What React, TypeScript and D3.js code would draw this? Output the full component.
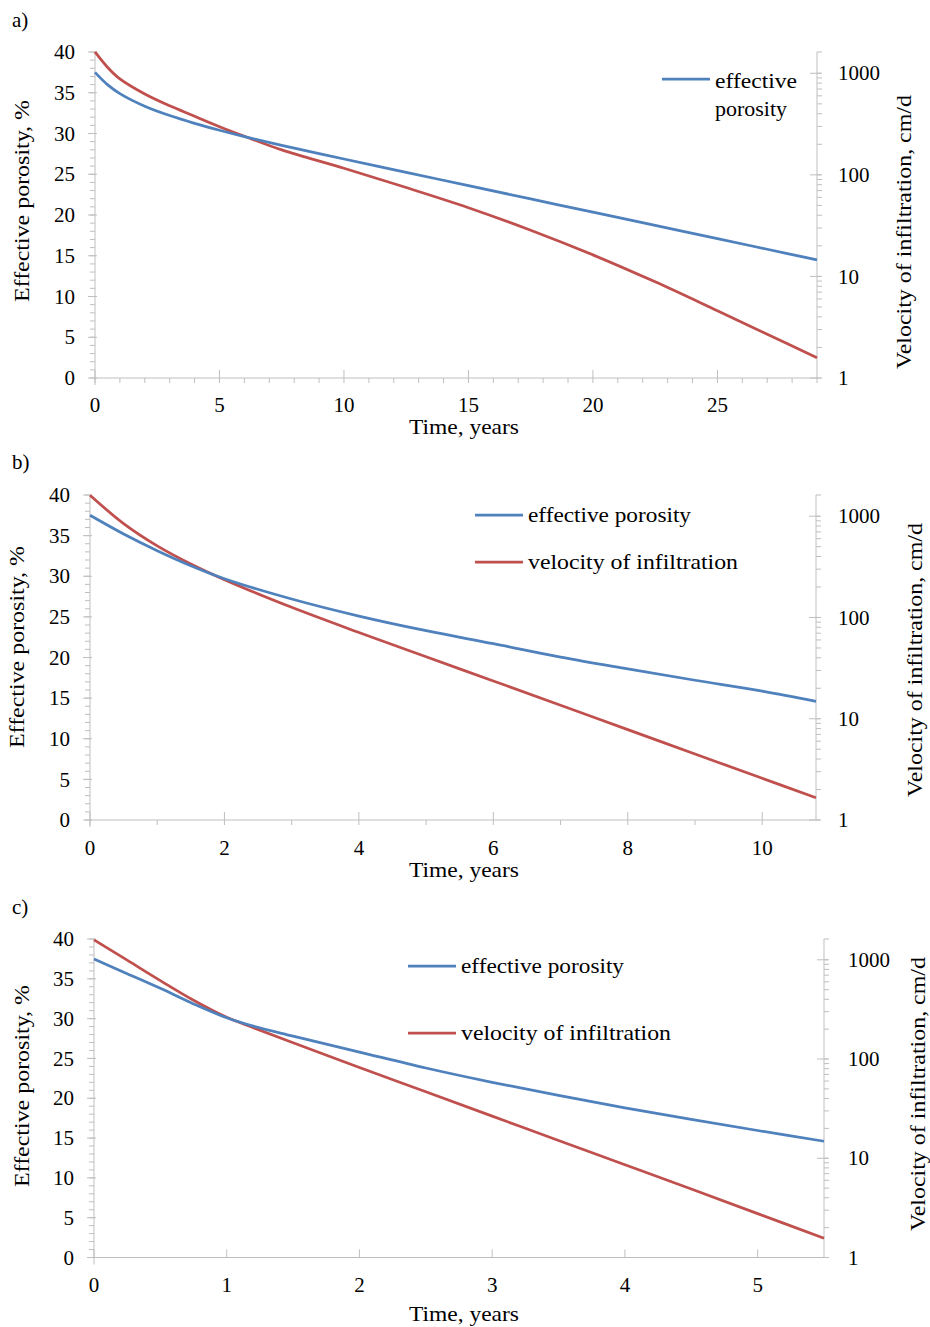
import React from "react";
import * as d3 from "d3";

// ---------- data ----------
const timeA = [0, 0.5, 1, 2, 3, 4, 5, 6, 7.5, 10, 12.5, 15, 17.5, 20, 22.5, 25, 27, 29];
const porosityA = [37.5, 36.0, 34.9, 33.35, 32.2, 31.25, 30.4, 29.62, 28.54, 26.87, 25.24, 23.6, 21.97, 20.35, 18.72, 17.1, 15.8, 14.5];
const velocityA = [1622, 1148, 880, 625, 478, 378, 298, 240, 176, 116, 75, 47.5, 28.5, 16.3, 8.84, 4.59, 2.7, 1.58];

const timeB = [0, 0.5, 1, 1.5, 2, 3, 4, 5, 6, 7, 8, 9, 10, 10.8];
const porosityB = [37.5, 35.2, 33.15, 31.3, 29.7, 27.2, 25.1, 23.3, 21.7, 20.05, 18.6, 17.2, 15.85, 14.6];
const velocityB = [1610, 845, 509, 337, 236, 126, 71.1, 40.9, 23.6, 13.6, 7.8, 4.49, 2.58, 1.66];

const timeC = [0, 0.25, 0.5, 0.75, 1, 1.2, 1.5, 2, 2.5, 3, 3.5, 4, 4.5, 5, 5.5];
const porosityC = [37.5, 35.65, 33.8, 31.85, 30.1, 29.05, 27.8, 25.8, 23.8, 22.0, 20.35, 18.8, 17.35, 15.95, 14.6];
const velocityC = [1589, 991, 617, 391, 263, 207, 146, 82.2, 46.8, 26.6, 15.1, 8.61, 4.9, 2.77, 1.56];

const porosityTicks = [0, 5, 10, 15, 20, 25, 30, 35, 40];
const velocityTicks = [1, 10, 100, 1000];
const xTicksA = [0, 5, 10, 15, 20, 25];
const xTicksB = [0, 2, 4, 6, 8, 10];
const xTicksC = [0, 1, 2, 3, 4, 5];

const BLUE = "#4F81BD";
const RED = "#C0504D";
const AXIS = "#BFBFBF";
const FONT = "Liberation Serif, Times New Roman, Tinos, Nimbus Roman, Times, serif";

type Panel = {
  tag: string;
  tagY: number;
  x0: number; x1: number; yTop: number; yBot: number;
  xMax: number; xTicks: number[]; xMinorStep: number | null;
  time: number[]; porosity: number[]; velocity: number[];
  tickBase: number; titleBase: number;
  leftTitle: [number, number]; rightTitle: [number, number];
  rightLabelX: number;
  legend: "single" | "double";
  legendX: number; legendY1: number; legendY2: number;
};

const panels: Panel[] = [
  {
    tag: "a)", tagY: 27, x0: 95, x1: 817, yTop: 52, yBot: 378, xMax: 29,
    xTicks: xTicksA, xMinorStep: 1, time: timeA, porosity: porosityA, velocity: velocityA,
    tickBase: 412, titleBase: 434, leftTitle: [22, 201], rightTitle: [904, 232], rightLabelX: 838,
    legend: "single", legendX: 662, legendY1: 79, legendY2: 0,
  },
  {
    tag: "b)", tagY: 469, x0: 90, x1: 816, yTop: 495, yBot: 820, xMax: 10.8,
    xTicks: xTicksB, xMinorStep: 1, time: timeB, porosity: porosityB, velocity: velocityB,
    tickBase: 855, titleBase: 877, leftTitle: [17, 647], rightTitle: [915, 660], rightLabelX: 838,
    legend: "double", legendX: 475, legendY1: 515, legendY2: 562,
  },
  {
    tag: "c)", tagY: 914, x0: 94, x1: 824, yTop: 939, yBot: 1257.5, xMax: 5.5,
    xTicks: xTicksC, xMinorStep: null, time: timeC, porosity: porosityC, velocity: velocityC,
    tickBase: 1292, titleBase: 1321, leftTitle: [22, 1086], rightTitle: [918, 1094], rightLabelX: 848,
    legend: "double", legendX: 408, legendY1: 966, legendY2: 1033,
  },
];

function logMinor(max: number): number[] {
  const out: number[] = [];
  for (let d = 1; d <= max; d *= 10) {
    for (let k = 1; k <= 9; k++) {
      const v = d * k;
      if (v <= max) out.push(v);
    }
  }
  return out;
}

function ChartPanel({ p }: { p: Panel }) {
  const x = d3.scaleLinear().domain([0, p.xMax]).range([p.x0, p.x1]);
  const yL = d3.scaleLinear().domain([0, 40]).range([p.yBot, p.yTop]);
  const yR = d3.scaleLog().domain([1, 1620]).range([p.yBot, p.yTop]);

  const blueLine = d3.line<number>()
    .x((_, i) => x(p.time[i]))
    .y((d) => yL(d))
    .curve(d3.curveCatmullRom.alpha(0.5));
  const redLine = d3.line<number>()
    .x((_, i) => x(p.time[i]))
    .y((d) => yR(d))
    .curve(d3.curveCatmullRom.alpha(0.5));

  const leftMinor = d3.range(0, 41, 1);
  const xMinor = p.xMinorStep ? d3.range(0, p.xMax + 1e-9, p.xMinorStep) : [];
  const rMinor = logMinor(1620);

  return (
    <g>
      <text x={12} y={p.tagY} fontSize={21}>{p.tag}</text>

      {/* left axis */}
      <line x1={p.x0} x2={p.x0} y1={p.yTop} y2={p.yBot + 7} stroke={AXIS} />
      {leftMinor.map((v) => (
        <line key={"lm" + v} x1={p.x0 - 5} x2={p.x0} y1={yL(v)} y2={yL(v)} stroke={AXIS} />
      ))}
      {porosityTicks.map((v) => (
        <g key={"lt" + v}>
          <line x1={p.x0 - 7} x2={p.x0 + 2} y1={yL(v)} y2={yL(v)} stroke={AXIS} />
          <text x={p.x0 - 20} y={yL(v)} dy="0.34em" textAnchor="end" fontSize={21}>{v}</text>
        </g>
      ))}

      {/* right axis */}
      <line x1={p.x1} x2={p.x1} y1={p.yTop} y2={p.yBot} stroke={AXIS} />
      <line x1={p.x1} x2={p.x1 + 5} y1={p.yTop} y2={p.yTop} stroke={AXIS} />
      {rMinor.map((v) => (
        <line key={"rm" + v} x1={p.x1} x2={p.x1 + 5} y1={yR(v)} y2={yR(v)} stroke={AXIS} />
      ))}
      {velocityTicks.map((v) => (
        <g key={"rt" + v}>
          <line x1={p.x1 - 7} x2={p.x1 + 4} y1={yR(v)} y2={yR(v)} stroke={AXIS} />
          <text x={p.rightLabelX} y={yR(v)} dy="0.34em" textAnchor="start" fontSize={21}>{v}</text>
        </g>
      ))}

      {/* bottom axis */}
      <line x1={p.x0} x2={p.x1} y1={p.yBot} y2={p.yBot} stroke={AXIS} />
      {xMinor.map((v) => (
        <line key={"xm" + v} x1={x(v)} x2={x(v)} y1={p.yBot} y2={p.yBot + 5} stroke={AXIS} />
      ))}
      {p.xTicks.map((v) => (
        <g key={"xt" + v}>
          <line x1={x(v)} x2={x(v)} y1={p.yBot - 8} y2={p.yBot} stroke={AXIS} />
          <text x={x(v)} y={p.tickBase} textAnchor="middle" fontSize={21}>{v}</text>
        </g>
      ))}

      {/* axis titles */}
      <text x={464} y={p.titleBase} textAnchor="middle" fontSize={21}
        textLength={110} lengthAdjust="spacingAndGlyphs">Time, years</text>
      <text transform={`translate(${p.leftTitle[0]},${p.leftTitle[1]}) rotate(-90)`} textAnchor="middle"
        dy="0.34em" fontSize={21} textLength={202} lengthAdjust="spacingAndGlyphs">
        Effective porosity, %
      </text>
      <text transform={`translate(${p.rightTitle[0]},${p.rightTitle[1]}) rotate(-90)`} textAnchor="middle"
        dy="0.34em" fontSize={21} textLength={274} lengthAdjust="spacingAndGlyphs">
        Velocity of infiltration, cm/d
      </text>

      {/* series */}
      <path d={redLine(p.velocity) || ""} fill="none" stroke={RED} strokeWidth={2.75} strokeLinejoin="round" />
      <path d={blueLine(p.porosity) || ""} fill="none" stroke={BLUE} strokeWidth={2.75} strokeLinejoin="round" />

      {/* legend */}
      {p.legend === "single" ? (
        <g>
          <line x1={p.legendX} x2={p.legendX + 48} y1={p.legendY1} y2={p.legendY1} stroke={BLUE} strokeWidth={2.75} />
          <text x={p.legendX + 53} y={p.legendY1 + 9} fontSize={21}
            textLength={82} lengthAdjust="spacingAndGlyphs">effective</text>
          <text x={p.legendX + 53} y={p.legendY1 + 37} fontSize={21}
            textLength={72} lengthAdjust="spacingAndGlyphs">porosity</text>
        </g>
      ) : (
        <g>
          <line x1={p.legendX} x2={p.legendX + 48} y1={p.legendY1} y2={p.legendY1} stroke={BLUE} strokeWidth={2.75} />
          <text x={p.legendX + 53} y={p.legendY1 + 7} fontSize={21}
            textLength={163} lengthAdjust="spacingAndGlyphs">effective porosity</text>
          <line x1={p.legendX} x2={p.legendX + 48} y1={p.legendY2} y2={p.legendY2} stroke={RED} strokeWidth={2.75} />
          <text x={p.legendX + 53} y={p.legendY2 + 7} fontSize={21}
            textLength={210} lengthAdjust="spacingAndGlyphs">velocity of infiltration</text>
        </g>
      )}
    </g>
  );
}

export default function App() {
  return (
    <svg width={930} height={1327}
      style={{ position: "absolute", left: 0, top: 0, background: "#fff", fontFamily: FONT }}>
      <rect x={0} y={0} width={930} height={1327} fill="#fff" />
      {panels.map((p) => (
        <ChartPanel key={p.tag} p={p} />
      ))}
    </svg>
  );
}
